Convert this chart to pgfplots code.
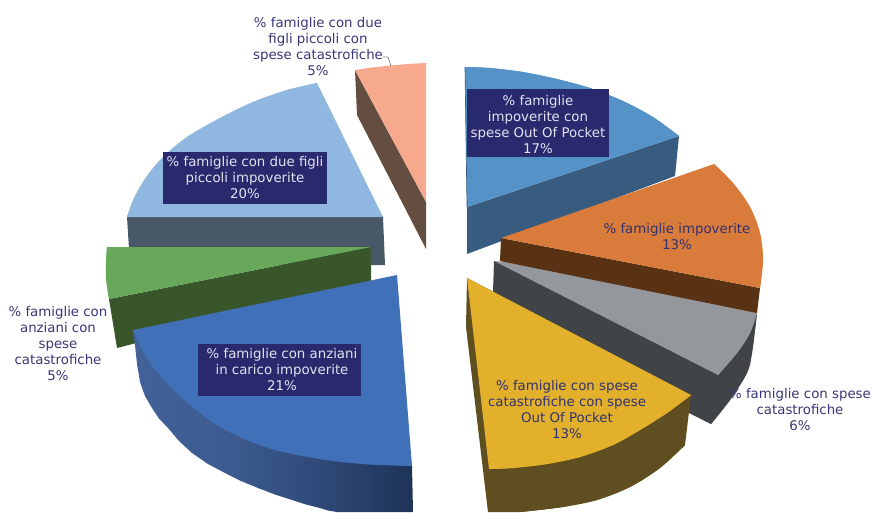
\documentclass[border=0pt]{standalone}
\usepackage{fontspec}
\setmainfont{DejaVu Sans}
\usepackage{pgfplots}
\pgfplotsset{compat=1.18}

\definecolor{boxnavy}{RGB}{41,41,110}
\definecolor{labelink}{RGB}{56,56,120}
\definecolor{darkink}{RGB}{50,50,112}
\definecolor{boxink}{RGB}{226,226,240}

\definecolor{blueTop}{RGB}{85,146,200}
\definecolor{blueSide}{RGB}{56,92,128}
\definecolor{orangeTop}{RGB}{217,123,59}
\definecolor{orangeSide}{RGB}{88,50,18}
\definecolor{grayTop}{RGB}{148,151,155}
\definecolor{graySide}{RGB}{64,68,71}
\definecolor{yellowTop}{RGB}{226,176,43}
\definecolor{yellowSide}{RGB}{95,78,31}
\definecolor{royalTop}{RGB}{63,112,184}
\definecolor{royalLeft}{RGB}{66,98,153}
\definecolor{royalMid}{RGB}{60,90,142}
\definecolor{royalJoin}{RGB}{44,70,115}
\definecolor{royalRight}{RGB}{30,51,88}
\definecolor{greenTop}{RGB}{104,168,90}
\definecolor{greenSide}{RGB}{56,86,41}
\definecolor{skyTop}{RGB}{143,183,224}
\definecolor{skySide}{RGB}{72,88,105}
\definecolor{salmonTop}{RGB}{246,169,141}
\definecolor{salmonSide}{RGB}{100,77,65}

\tikzset{box/.style={fill=boxnavy, text=boxink}}

\begin{document}
\begin{tikzpicture}
\begin{axis}[
    scale only axis, width=654.75pt, height=384pt,
    xmin=0, xmax=873, ymin=0, ymax=512,
    y dir=reverse, axis lines=none,
    nodes={font=\fontsize{10}{12}\selectfont, align=center, inner sep=0pt},
    face/.style={fill=#1, draw=none},
    arc/.style={fill=#1, draw=none, smooth, tension=0.6},
]
% page background, keeps the full page size
\addplot[fill=white, draw=none] coordinates {(0,0)(873,0)(873,512)(0,512)} --cycle;
% each face: a polygon through the rim points, then the curved rim on top
% light blue 20%
\addplot[face=skySide] coordinates {(127,217)(383,217)(385,265)(130,265)} --cycle;
\addplot[face=skyTop] coordinates {(383,217)(317,83)(287,90)(253,102)(220,118)(187,137)(163,157)(147,176)(134,198)(127,217)} --cycle;
\addplot[arc=skyTop] coordinates {(317,83)(287,90)(253,102)(220,118)(187,137)(163,157)(147,176)(134,198)(127,217)};
% salmon 5%
\addplot[face=salmonSide] coordinates {(355,70)(426,202)(426,249)(357,115)} --cycle;
\addplot[face=salmonTop] coordinates {(355,70)(372,67.5)(390,65.5)(408,64)(426,63)(426,202)} --cycle;
\addplot[gray, line width=0.5pt] coordinates {(383,57)(388,57)(391,66)};
% blue 17%
\addplot[face=blueSide] coordinates {(467,207)(679,136)(675,176)(467,254)} --cycle;
\addplot[face=blueTop] coordinates {(465,67)(490,68)(523,72)(557,79)(590,88)(623,101)(653,117)(679,136)(467,207)} --cycle;
\addplot[arc=blueTop] coordinates {(465,67)(490,68)(523,72)(557,79)(590,88)(623,101)(653,117)(679,136)};
\addplot[blueSide, line width=0.5pt] coordinates {(465,67)(467,207)};
% gray 6%
\addplot[face=graySide] coordinates {(494,261)(757,313)(752,353)(747,373)(730,400)(711,424)(689,413)(493,292)} --cycle;
\addplot[arc=graySide] coordinates {(757,313)(752,353)(747,373)(730,400)(711,424)};
\addplot[face=grayTop] coordinates {(494,261)(718,375)(737,353)(750,333)(757,313)(600,270)} --cycle;
\addplot[arc=grayTop] coordinates {(718,375)(737,353)(750,333)(757,313)};
% orange 13%
\addplot[face=orangeSide] coordinates {(501,238)(760,288)(757,313)(500,261)} --cycle;
\addplot[face=orangeTop] coordinates {(501,238)(714,164)(733,183)(750,207)(760,233)(763,260)(760,288)} --cycle;
\addplot[arc=orangeTop] coordinates {(714,164)(733,183)(750,207)(760,233)(763,260)(760,288)};
% yellow 13%
\addplot[face=yellowSide] coordinates {(467,278)(691,395)(685,445)(660,468)(630,487)(597,500)(563,507)(530,511)(520,512)(488,512)(466,327)} --cycle;
\addplot[arc=yellowSide] coordinates {(685,445)(660,468)(630,487)(597,500)(563,507)(530,511)(520,512)};
\addplot[face=yellowTop] coordinates {(467,278)(691,395)(667,413)(640,430)(613,445)(580,457)(547,464)(513,468)(489,469)} --cycle;
\addplot[arc=yellowTop] coordinates {(691,395)(667,413)(640,430)(613,445)(580,457)(547,464)(513,468)(489,469)};
% green 5%
\addplot[face=greenSide] coordinates {(109,299)(371,247)(371,282)(117,348)} --cycle;
\addplot[face=greenTop] coordinates {(107,247)(371,247)(109,299)(106,278)(106,262)} --cycle;
\addplot[arc=greenTop] coordinates {(107,247)(106,262)(106,278)(109,299)};
% royal blue 21%
\addplot[left color=royalLeft, right color=royalJoin, middle color=royalMid, draw=none] coordinates {(133,330)(135,345)(137,364)(140,382)(145,396)(152,408)(159,418.5)(168,428)(179,441)(192,453)(208,464)(225,473)(241,481)(258,488)(275,494.5)(292,500)(306,504.5)(320,508)(328,510.5)(337,512)(337,450)} --cycle;
\addplot[left color=royalJoin, right color=royalRight, draw=none] coordinates {(337,450)(395,450)(412,466)(413,512)(337,512)} --cycle;
\addplot[face=royalTop] coordinates {(397,275)(133,330)(145,355)(162,378)(182,398)(212,422)(242,438)(275,450)(320,459)(363,464)(412,466)} --cycle;
\addplot[arc=royalTop] coordinates {(133,330)(145,355)(162,378)(182,398)(212,422)(242,438)(275,450)(320,459)(363,464)(412,466)};

% labels
\node[box, minimum width=106.5pt, minimum height=51pt] at (axis cs:538,123) {};
\node[text=boxink] at (axis cs:538,125) {\% famiglie\\impoverite con\\spese Out Of Pocket\\17\%};
\node[box, minimum width=122pt, minimum height=39pt] at (axis cs:279.5,370) {};
\node[text=boxink] at (axis cs:282,370) {\% famiglie con anziani\\in carico impoverite\\21\%};
\node[box, minimum width=123pt, minimum height=39pt] at (axis cs:245,178) {\% famiglie con due figli\\piccoli impoverite\\20\%};
\node[text=darkink] at (axis cs:677,237) {\% famiglie impoverite\\13\%};
\node[text=darkink] at (axis cs:567,410) {\% famiglie con spese\\catastrofiche con spese\\Out Of Pocket\\13\%};
\node[text=labelink] at (axis cs:800,410) {\% famiglie con spese\\catastrofiche\\6\%};
\node[text=labelink] at (axis cs:58,344) {\% famiglie con\\anziani con\\spese\\catastrofiche\\5\%};
\node[text=labelink] at (axis cs:318,46.5) {\% famiglie con due\\figli piccoli con\\spese catastrofiche\\5\%};
\end{axis}
\end{tikzpicture}
\end{document}
